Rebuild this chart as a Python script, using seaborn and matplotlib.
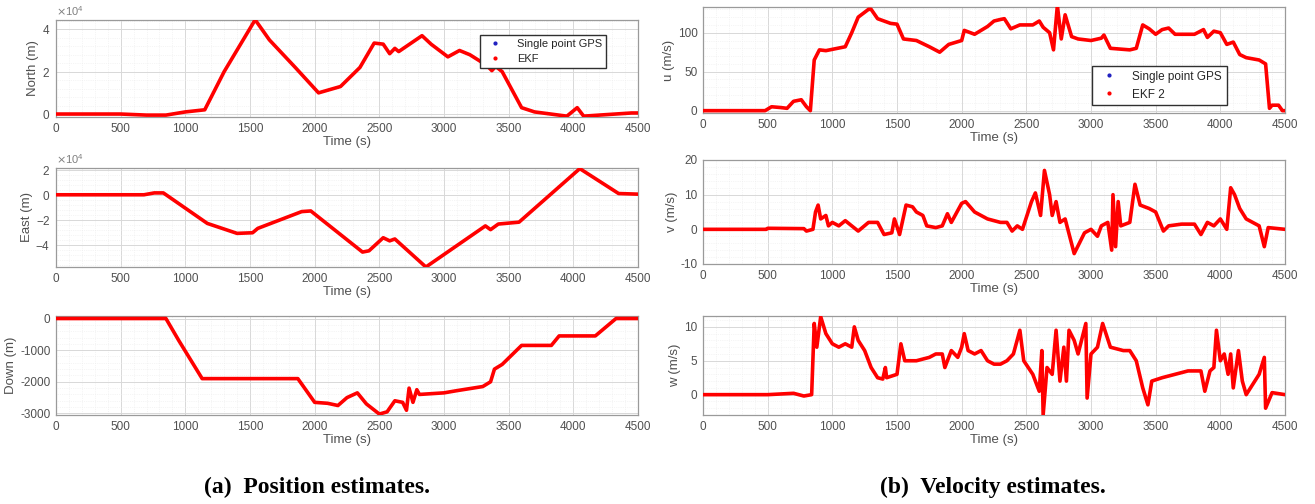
import numpy as np
import pandas as pd
import matplotlib
matplotlib.use('Agg')
import matplotlib.pyplot as plt
from matplotlib.lines import Line2D
from matplotlib.ticker import ScalarFormatter, AutoMinorLocator
import seaborn as sns

# ---- data (time in s) ----
north_t = [0, 500, 700, 850, 1000, 1150, 1300, 1540, 1650, 1850, 2030, 2200, 2350, 2460, 2530,
           2580, 2620, 2650, 2830, 2900, 3030, 3120, 3200, 3330, 3370, 3400, 3450, 3600, 3700,
           3950, 4030, 4080, 4200, 4450, 4500]
north_m = [0, 0, -500, -500, 1000, 2000, 20000, 44500, 35000, 22000, 10000, 13000, 22000, 33500, 33000,
           28500, 31000, 29500, 37000, 33000, 27000, 30000, 28000, 23000, 20500, 22500, 20000, 3000, 1000,
           -1000, 3000, -1000, -500, 500, 500]

east_t = [0, 680, 760, 830, 1170, 1400, 1520, 1560, 1900, 1970, 2370, 2420, 2530, 2580, 2620,
          2860, 3320, 3360, 3420, 3580, 4050, 4350, 4500]
east_m = [0, 0, 1500, 1500, -23000, -31000, -30500, -27000, -13500, -13000, -46000, -45000, -34500,
          -37000, -35500, -58000, -25000, -28000, -23500, -22000, 21000, 1000, 500]

down_t = [0, 850, 950, 1130, 1870, 2000, 2100, 2180, 2250, 2330, 2400, 2500, 2560, 2620, 2680,
          2710, 2730, 2760, 2790, 2810, 3000, 3100, 3300, 3360, 3390, 3450, 3600, 3830, 3890,
          4170, 4330, 4500]
down_m = [0, 0, -700, -1900, -1900, -2650, -2680, -2750, -2500, -2350, -2700, -3020, -2950, -2600,
          -2650, -2900, -2200, -2650, -2250, -2400, -2350, -2280, -2150, -2000, -1600, -1450, -850,
          -850, -550, -550, 0, 0]

u_t = [0, 480, 530, 600, 650, 700, 760, 800, 830, 860, 900, 950, 1100, 1150, 1200, 1280, 1300,
       1350, 1450, 1500, 1550, 1650, 1750, 1830, 1900, 2000, 2020, 2100, 2200, 2250, 2300, 2330,
       2380, 2450, 2550, 2600, 2630, 2680, 2710, 2740, 2770, 2800, 2850, 2900, 3000, 3080, 3100,
       3150, 3300, 3350, 3400, 3450, 3500, 3550, 3600, 3650, 3800, 3870, 3900, 3950, 4000, 4050,
       4100, 4150, 4200, 4300, 4350, 4380, 4400, 4450, 4480, 4500]
u_ms = [0, 0, 5, 4, 3, 12, 14, 5, 0, 65, 78, 77, 82, 100, 120, 130, 130,
        118, 112, 111, 92, 90, 82, 75, 85, 90, 103, 98, 108, 115, 117, 118,
        105, 110, 110, 115, 107, 100, 78, 135, 92, 123, 95, 92, 90, 93, 97,
        80, 78, 80, 110, 105, 98, 104, 106, 98, 98, 104, 94, 102, 100, 85,
        88, 72, 68, 65, 60, 3, 7, 7, 0, 0]

v_t = [0, 490, 500, 780, 800, 850, 870, 890, 910, 950, 970, 1000, 1050, 1100, 1150, 1200, 1280,
       1350, 1400, 1460, 1480, 1520, 1570, 1620, 1650, 1700, 1730, 1800, 1850, 1890, 1920, 2000,
       2030, 2100, 2200, 2300, 2350, 2390, 2430, 2470, 2540, 2570, 2610, 2640, 2680, 2700, 2730,
       2760, 2800, 2870, 2950, 3000, 3050, 3080, 3130, 3160, 3170, 3190, 3210, 3230, 3300, 3340,
       3380, 3450, 3500, 3560, 3600, 3700, 3800, 3850, 3900, 3950, 4000, 4050, 4080, 4110, 4150,
       4200, 4250, 4300, 4340, 4370, 4500]
v_ms = [0, 0, 0.3, 0.2, -0.5, 0, 5, 7, 3, 4, 1, 2, 1, 2.5, 1, -0.5, 2,
        2, -1.5, -1, 3, -1.5, 7, 6.5, 5, 4, 1, 0.5, 1, 4.5, 2, 7.5,
        8, 5, 3, 2, 2, -0.5, 1, 0, 8, 10.5, 4, 17, 10, 4, 8,
        2, 3, -7, -1, 0, -2, 1, 2, -6, 10, -5, 8, 1, 2, 13,
        7, 6, 5, -0.5, 1, 1.5, 1.5, -1.5, 2, 1, 3, 0, 12, 10, 6,
        3, 2, 1, -5, 0.5, 0]

w_t = [0, 500, 700, 780, 840, 860, 880, 910, 950, 1000, 1050, 1100, 1150, 1170, 1200, 1250, 1300,
       1350, 1390, 1410, 1420, 1500, 1530, 1560, 1650, 1750, 1800, 1850, 1870, 1920, 1970, 2000,
       2020, 2050, 2100, 2150, 2200, 2250, 2300, 2350, 2400, 2450, 2480, 2550, 2600, 2620, 2630,
       2660, 2700, 2730, 2760, 2790, 2810, 2830, 2870, 2900, 2960, 2970, 3000, 3050, 3090, 3150,
       3250, 3300, 3350, 3400, 3440, 3470, 3550, 3650, 3750, 3850, 3880, 3920, 3950, 3970, 4000,
       4030, 4060, 4080, 4100, 4140, 4170, 4200, 4250, 4300, 4340, 4350, 4400, 4500]
w_ms = [0, 0, 0.2, -0.2, 0, 10.5, 7, 11.5, 9, 7.5, 7, 7.5, 7, 10, 8, 6.5, 4,
        2.5, 2.3, 4, 2.5, 3, 7.5, 5, 5, 5.5, 6, 6, 4, 6.5, 5.5, 7,
        9, 6.5, 6, 6.5, 5, 4.5, 4.5, 5, 6, 9.5, 5, 3, 0.5, 6.5, -3,
        4, 3, 9.5, 2, 7, 2, 9.5, 8, 6, 10.5, -0.5, 6, 7, 10.5, 7,
        6.5, 6.5, 5, 1, -1.5, 2, 2.5, 3, 3.5, 3.5, 0.5, 3.5, 4, 9.5, 5,
        6, 3, 6, 1, 6.5, 2, 0, 1.5, 3, 5.5, -2, 0.3, 0]

panels = [
    # (t, values, ylabel, ylim, yticks, left px, top px, bottom px, sci)
    (north_t, north_m, 'North (m)', (-1400, 44400), [0, 20000, 40000], 56, 20, 117, True),
    (east_t, east_m, 'East (m)', (-58000, 21500), [-40000, -20000, 0, 20000], 56, 168, 267, True),
    (down_t, down_m, 'Down (m)', (-3050, 80), [-3000, -2000, -1000, 0], 56, 316, 415, False),
    (u_t, u_ms, 'u (m/s)', (-3, 133), [0, 50, 100], 703, 7, 113, False),
    (v_t, v_ms, 'v (m/s)', (-10, 20), [-10, 0, 10, 20], 703, 160, 264, False),
    (w_t, w_ms, 'w (m/s)', (-3, 11.6), [0, 5, 10], 703, 316, 415, False),
]

W, H = 1315, 504
sns.set_style('white')
plt.rcParams['font.family'] = ['Liberation Sans', 'DejaVu Sans']
plt.rcParams['axes.unicode_minus'] = False

fig = plt.figure(figsize=(W / 100, H / 100), dpi=100)
tick_col = '#505050'

axes = []
for i, (t, vals, ylab, ylim, yticks, lpx, tpx, bpx, sci) in enumerate(panels):
    ax = fig.add_axes([lpx / W, 1 - bpx / H, 582 / W, (bpx - tpx) / H])
    df = pd.DataFrame({'t': t, 'val': vals})
    # GPS (blue dots) underneath, filter estimate (red) on top
    sns.lineplot(data=df, x='t', y='val', ax=ax, color='#2020c0', linewidth=1.0, zorder=2)
    sns.lineplot(data=df, x='t', y='val', ax=ax, color='#ff0000', linewidth=2.6, zorder=3)
    ax.set_xlim(0, 4500)
    ax.set_ylim(*ylim)
    ax.set_xticks(np.arange(0, 4501, 500))
    ax.set_yticks(yticks)
    ax.xaxis.set_minor_locator(AutoMinorLocator(5))
    ax.yaxis.set_minor_locator(AutoMinorLocator(5))
    ax.grid(which='major', color='#d8d8d8', linewidth=0.7)
    ax.grid(which='minor', color='#ececec', linewidth=0.5, linestyle=':')
    ax.set_axisbelow(True)
    for sp in ax.spines.values():
        sp.set_color('#9a9a9a')
        sp.set_linewidth(0.9)
    ax.tick_params(which='both', direction='in', colors='#9a9a9a', labelcolor=tick_col,
                   labelsize=8.5, length=3, pad=4)
    ax.tick_params(which='minor', length=0)
    ax.set_xlabel('Time (s)', fontsize=9.5, color=tick_col, labelpad=1)
    ax.set_ylabel(ylab, fontsize=9.5, color=tick_col, labelpad=2)
    if sci:
        fmt = ScalarFormatter(useMathText=True)
        fmt.set_powerlimits((0, 0))
        ax.yaxis.set_major_formatter(fmt)
        ax.yaxis.get_offset_text().set_fontsize(8)
        ax.yaxis.get_offset_text().set_color('#808080')
    axes.append(ax)

handles = [Line2D([], [], linestyle='none', marker='.', markersize=4, color='#2020c0'),
           Line2D([], [], linestyle='none', marker='.', markersize=4, color='#ff0000')]
axes[0].legend(handles, ['Single point GPS', 'EKF'], loc='upper right',
               bbox_to_anchor=(0.955, 0.90), fontsize=8, frameon=True, fancybox=False,
               edgecolor='#303030', framealpha=1, handletextpad=1.0, borderpad=0.35,
               labelspacing=0.45)
axes[3].legend(handles, ['Single point GPS', 'EKF 2'], loc='upper right',
               bbox_to_anchor=(0.91, 0.50), fontsize=8.5, frameon=True, fancybox=False,
               edgecolor='#303030', framealpha=1, handletextpad=1.0, borderpad=0.4,
               labelspacing=0.5)

cap_kw = dict(fontsize=17, fontweight='bold', family=['Liberation Serif', 'DejaVu Serif'],
              ha='center', va='center', color='black')
fig.text(317 / W, 1 - 487 / H, '(a)  Position estimates.', **cap_kw)
fig.text(993 / W, 1 - 487 / H, '(b)  Velocity estimates.', **cap_kw)

fig.savefig('out.png', dpi=100)
